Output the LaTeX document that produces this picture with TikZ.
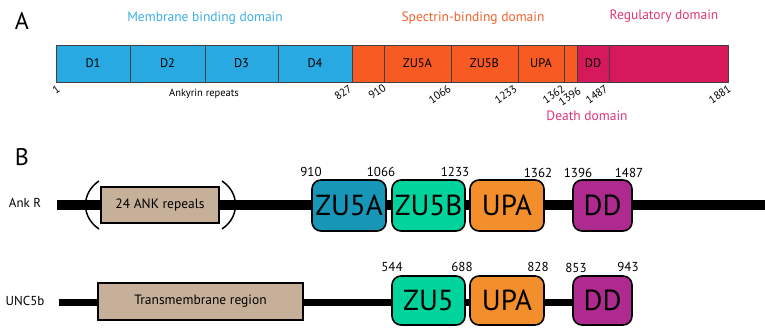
\documentclass[tikz,border=0pt]{standalone}
\usepackage{fontspec}
\usepackage{graphicx}
\setmainfont{PT Sans}
\usetikzlibrary{backgrounds}

\definecolor{ablue}{HTML}{29A9E1}
\definecolor{aorange}{HTML}{F75A22}
\definecolor{amag}{HTML}{D6195B}
\definecolor{tblue}{HTML}{3AAEE6}
\definecolor{torange}{HTML}{F4622A}
\definecolor{tmag}{HTML}{E03574}
\definecolor{tan}{HTML}{C6B09A}
\definecolor{zteal}{HTML}{1896B8}
\definecolor{zmint}{HTML}{00D39B}
\definecolor{zorange}{HTML}{F28E2B}
\definecolor{zpurple}{HTML}{AE2A8F}

% residue numbers printed on a slant under the bar
\newcommand{\slantnum}[1]{\rotatebox{35}{#1}}

\begin{document}
\begin{tikzpicture}[x=1pt,y=-1pt,
  seg/.style={draw=black!75, line width=0.8pt, minimum height=37pt, inner sep=0pt, outer sep=0pt, font=\fontsize{12.5}{14}\selectfont},
  numa/.style={anchor=north east, inner sep=0pt, font=\fontsize{11}{13}\selectfont},
  head/.style={font=\fontsize{13.5}{16}\selectfont},
  dom/.style={draw=black, line width=1.6pt, rounded corners=9pt, inner sep=0pt, outer sep=0pt, font=\fontsize{29}{32}\selectfont},
  plain/.style={draw=black, line width=1.6pt, fill=tan, inner sep=0pt, outer sep=0pt, font=\fontsize{13.5}{16}\selectfont},
  numb/.style={anchor=base, inner sep=0pt, font=\fontsize{13}{15}\selectfont},
  panel/.style={font=\fontsize{24}{28}\selectfont},
  rowlab/.style={font=\fontsize{13}{15}\selectfont},
  bline/.style={line width=9.5pt},
  uline/.style={line width=7pt}]
\useasboundingbox (0,0) rectangle (765,328);

% ---------- panel A: linear domain map ----------
\node[panel] (pa) at (22,21) {A};

\node[seg, fill=ablue, minimum width=74pt] (d1) at (93,63.5) {D1};
\node[seg, fill=ablue, minimum width=75pt] (d2) at (167.5,63.5) {D2};
\node[seg, fill=ablue, minimum width=73pt] (d3) at (241.5,63.5) {D3};
\node[seg, fill=ablue, minimum width=74pt] (d4) at (315,63.5) {D4};
\node[seg, fill=aorange, minimum width=32pt] (s0) at (368,63.5) {};
\node[seg, fill=aorange, minimum width=67pt] (za) at (417.5,63.5) {ZU5A};
\node[seg, fill=aorange, minimum width=67pt] (zb) at (484.5,63.5) {ZU5B};
\node[seg, fill=aorange, minimum width=46pt] (ua) at (541,63.5) {UPA};
\node[seg, fill=aorange, minimum width=13pt] (s1) at (570.5,63.5) {};
\node[seg, fill=amag, minimum width=32pt] (da) at (593,63.5) {DD};
\node[seg, fill=amag, minimum width=119pt] (rg) at (668.5,63.5) {};

\node[head, text=tblue] (hmem) at (205,18) {Membrane binding domain};
\node[head, text=torange] (hspec) at (473,18) {Spectrin-binding domain};
\node[head, text=tmag] (hreg) at (664,16) {Regulatory domain};
\node[head, text=tmag] (hdeath) at (587,116) {Death domain};
\node[font=\fontsize{10.5}{12}\selectfont] (ank) at (204,94) {Ankyrin repeats};

\node[numa] (n1) at (61,84) {\slantnum{1}};
\node[numa] (n827) at (353,84) {\slantnum{827}};
\node[numa] (n910) at (387,83) {\slantnum{910}};
\node[numa] (n1066) at (452,84) {\slantnum{1066}};
\node[numa] (n1233) at (518,84) {\slantnum{1233}};
\node[numa] (n1362) at (566,84) {\slantnum{1362}};
\node[numa] (n1396) at (582,86) {\slantnum{1396}};
\node[numa] (n1487) at (609,84) {\slantnum{1487}};
\node[numa] (n1881) at (732,84) {\slantnum{1881}};

% ---------- panel B: Ank R and UNC5b ----------
\node[panel] (pb) at (22,157) {B};

\node[rowlab] (lank) at (25,203) {Ank R};
\node[rowlab] (lunc) at (25,301) {UNC5b};

\coordinate (ankL) at (57,205);
\coordinate (ankR) at (765,205);
\coordinate (uncL) at (59,303);

\node[plain, minimum width=118pt, minimum height=36pt] (ankbox) at (160,205) {24 ANK repeals};
\draw[line width=1.5pt] (99,181) .. controls (81,193) and (81,217) .. (99,229);
\draw[line width=1.5pt] (222,181) .. controls (240,193) and (240,217) .. (222,229);

\node[dom, fill=zteal, minimum width=74pt, minimum height=51pt] (bza) at (349,205.5) {ZU5A};
\node[dom, fill=zmint, minimum width=73pt, minimum height=51pt] (bzb) at (428.5,205.5) {ZU5B};
\node[dom, fill=zorange, minimum width=74pt, minimum height=51pt] (bua) at (507,205.5) {UPA};
\node[dom, fill=zpurple, minimum width=59pt, minimum height=51pt] (bda) at (602.5,205.5) {DD};

\node[plain, minimum width=205pt, minimum height=37pt] (tm) at (200.5,301.5) {Transmembrane region};
\node[dom, fill=zmint, minimum width=73pt, minimum height=49pt] (bz) at (428.5,300.5) {ZU5};
\node[dom, fill=zorange, minimum width=74pt, minimum height=49pt] (bub) at (507,300.5) {UPA};
\node[dom, fill=zpurple, minimum width=59pt, minimum height=49pt] (bdb) at (602.5,300.5) {DD};

\begin{scope}[on background layer]
  \draw[bline] (ankL) -- (ankR);
  \draw[uline] (uncL) -- (bdb.west |- uncL);
\end{scope}

\node[numb] (m910) at (311,177) {910};
\node[numb] (m1066) at (381,177) {1066};
\node[numb] (m1233) at (455,177) {1233};
\node[numb] (m1362) at (538,178) {1362};
\node[numb] (m1396) at (578,178) {1396};
\node[numb] (m1487) at (629,178) {1487};

\node[numb] (k544) at (392,272) {544};
\node[numb] (k688) at (462,272) {688};
\node[numb] (k828) at (538,272) {828};
\node[numb] (k853) at (576,273) {853};
\node[numb] (k943) at (628,272) {943};
\end{tikzpicture}
\end{document}
